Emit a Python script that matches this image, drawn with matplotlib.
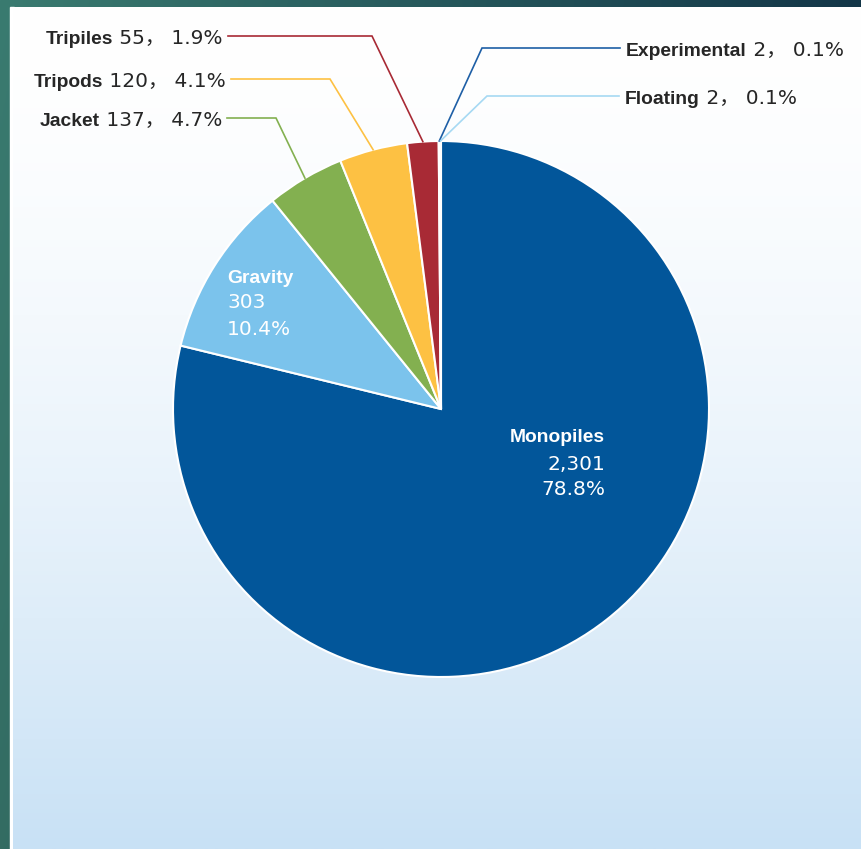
import numpy as np
import matplotlib.pyplot as plt
from matplotlib.patches import Rectangle

W, H = 862, 849

foundations = ["Monopiles", "Gravity", "Jacket", "Tripods", "Tripiles", "Experimental", "Floating"]
turbines = [2301, 303, 137, 120, 55, 2, 2]
colors = ["#02569a", "#7bc3ec", "#83b050", "#fdc143", "#a82a35", "#1e5fa6", "#a6d9f3"]

total = sum(turbines)
shares = [100 * n / total for n in turbines]

NAME_FONT = dict(family="Liberation Sans", weight="bold", size=13.9)
NUM_FONT = dict(family=["DejaVu Sans", "Noto Sans CJK SC"], size=14.5)
INK = "#262626"

fig = plt.figure(figsize=(W / 100, H / 100), dpi=100)
ax = fig.add_axes([0, 0, 1, 1])


def py(y):
    # y measured from the top edge
    return H - y


# dark teal frame behind the panel
gx, gy = np.meshgrid(np.linspace(0, 1, 300), np.linspace(0, 1, 300))
c_left = np.array([0x3a, 0x7b, 0x70]) / 255
c_right = np.array([0x13, 0x36, 0x48]) / 255
frame = c_left * (1 - gx[..., None]) + c_right * gx[..., None]
frame = frame * (1 - 0.12 * gy[..., None])
ax.imshow(frame, extent=[0, W, 0, H], origin="upper", aspect="auto", zorder=0)

# panel: white fading to pale blue
ax.add_patch(Rectangle((10, 0), 4, py(7), color="white", zorder=0.5))
t = np.linspace(0, 1, 400) ** 1.6
c_top = np.array([1.0, 1.0, 1.0])
c_bot = np.array([0xc8, 0xe1, 0xf5]) / 255
panel = (c_top * (1 - t[:, None]) + c_bot * t[:, None])[:, None, :]
ax.imshow(panel, extent=[13, W, 0, py(7)], origin="upper", aspect="auto", zorder=0.6)

cx, cy, r = 441, py(409), 268
wedges, _ = ax.pie(turbines, colors=colors, startangle=90, counterclock=False,
                   center=(cx, cy), radius=r,
                   wedgeprops=dict(edgecolor="white", linewidth=1.5))
for w in wedges:
    w.set_zorder(2)

ax.set_xlim(0, W)
ax.set_ylim(0, H)
ax.set_aspect("equal")
ax.axis("off")

renderer = fig.canvas.get_renderer()

# outer labels: side, text edge x, leader y, elbow x
outer = {
    "Tripiles": ("left", 223, 36, 372),
    "Tripods": ("left", 226, 79, 330),
    "Jacket": ("left", 222, 118, 276),
    "Experimental": ("right", 626, 48, 482),
    "Floating": ("right", 625, 96, 487),
}

for i, name in enumerate(foundations):
    if name not in outer:
        continue
    side, tx, ly, ex = outer[name]
    base = py(ly + 7.5)
    rest = f" {turbines[i]:,}\uff0c {shares[i]:.1f}%"
    if side == "left":
        num = ax.text(tx, base, rest, ha="right", va="baseline", color=INK, zorder=5, **NUM_FONT)
        x0 = num.get_window_extent(renderer).x0
        ax.text(x0, base, name, ha="right", va="baseline", color=INK, zorder=5, **NAME_FONT)
        lx = tx + 5
    else:
        lbl = ax.text(tx, base, name, ha="left", va="baseline", color=INK, zorder=5, **NAME_FONT)
        x1 = lbl.get_window_extent(renderer).x1
        ax.text(x1, base, rest, ha="left", va="baseline", color=INK, zorder=5, **NUM_FONT)
        lx = tx - 6

    w = wedges[i]
    mid = np.deg2rad((w.theta1 + w.theta2) / 2)
    ax_, ay_ = cx + r * np.cos(mid), cy + r * np.sin(mid)
    ax.plot([lx, ex, ax_], [py(ly), py(ly), ay_], color=colors[i], lw=1.2,
            solid_joinstyle="miter", zorder=3)

# labels inside the two big slices
inner = {
    "Monopiles": ("right", 605, [442, 470, 495]),
    "Gravity": ("left", 227, [283, 308, 335]),
}
for i, name in enumerate(foundations):
    if name not in inner:
        continue
    ha, x, rows = inner[name]
    ax.text(x, py(rows[0]), name, ha=ha, va="baseline", color="white", zorder=5, **NAME_FONT)
    ax.text(x, py(rows[1]), f"{turbines[i]:,}", ha=ha, va="baseline", color="white", zorder=5, **NUM_FONT)
    ax.text(x, py(rows[2]), f"{shares[i]:.1f}%", ha=ha, va="baseline", color="white", zorder=5, **NUM_FONT)

fig.savefig("out.png", dpi=100)
